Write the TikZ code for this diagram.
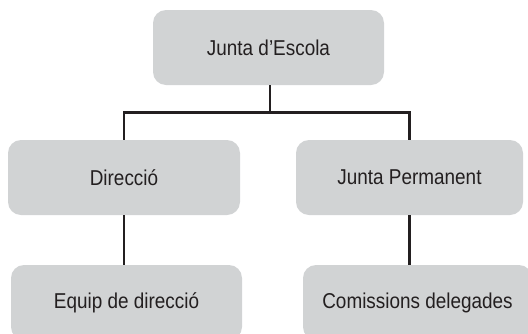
\documentclass[tikz,border=0pt]{standalone}
\usepackage{fontspec}
\setmainfont{Liberation Sans}[FakeStretch=0.88]
\definecolor{boxfill}{HTML}{D1D3D4}
\definecolor{ink}{HTML}{231F20}
\begin{document}
\begin{tikzpicture}[x=1pt,y=-1pt,
  orgbox/.style={rectangle, rounded corners=13pt, fill=boxfill, draw=none,
    text=ink, inner sep=0pt, font=\fontsize{21.5}{24}\selectfont},
  link/.style={draw=ink, line width=2.6pt}]
\useasboundingbox (0,0) rectangle (528,333);
\clip (0,0) rectangle (528,333);
\node[orgbox, minimum width=231pt, minimum height=75pt] (j) at (268.5,47.5) {Junta d’Escola};
\node[orgbox, minimum width=232pt, minimum height=75pt] (d) at (124,177.5) {Direcció};
\node[orgbox, minimum width=227pt, minimum height=75pt] (p) at (409.5,177.5) {Junta Permanent};
\node[orgbox, minimum width=231pt, minimum height=75pt] (e) at (126.5,302.5) {Equip de direcció};
\node[orgbox, minimum width=229pt, minimum height=75pt] (c) at (417.5,302.5) {Comissions delegades};
\coordinate (hub) at (270,112.5);
\draw[link] (j.south -| hub) -- (hub);
\draw[link] (hub) -| (d.north);
\draw[link] (hub) -| (p.north);
\draw[link] (d.south) -- (d.south |- e.north);
\draw[link] (p.south) -- (p.south |- c.north);
\end{tikzpicture}
\end{document}
